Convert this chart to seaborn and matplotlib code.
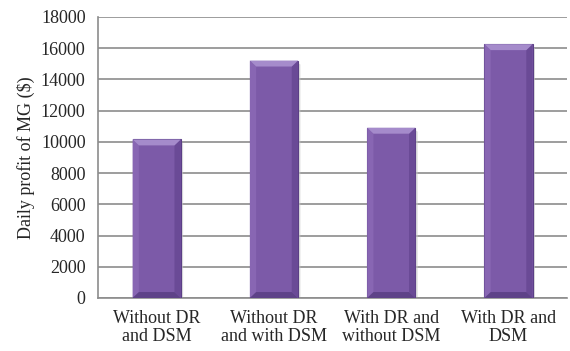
import matplotlib
matplotlib.use("Agg")
import matplotlib.pyplot as plt
from matplotlib.patches import Polygon
import seaborn as sns
import pandas as pd

categories = ["Without DR\nand DSM", "Without DR\nand with DSM",
              "With DR and\nwithout DSM", "With DR and\nDSM"]
profit = [10150, 15200, 10900, 16250]
yticks = [0, 2000, 4000, 6000, 8000, 10000, 12000, 14000, 16000, 18000]

df = pd.DataFrame({"scenario": categories, "profit": profit})

sns.set_style("white")
plt.rcParams["font.family"] = ["Liberation Serif", "DejaVu Serif"]

fig = plt.figure(figsize=(5.70, 3.51), dpi=100)
ax = fig.add_axes([0.172, 0.151, 0.823, 0.801])

base = "#7C5AA8"
sns.barplot(data=df, x="scenario", y="profit", color=base, saturation=1,
            width=0.41, edgecolor="#5B3F86", linewidth=0.8, ax=ax, zorder=3)

# bevelled look on each bar, built from the bar patches
for p in list(ax.patches):
    x0, y0 = p.get_x(), p.get_y()
    w, h = p.get_width(), p.get_height()
    x1, y1 = x0 + w, y0 + h
    dx = w * 0.13
    dy = 380
    top = Polygon([(x0, y1), (x1, y1), (x1 - dx, y1 - dy), (x0 + dx, y1 - dy)],
                  closed=True, facecolor="#A58BCB", edgecolor="none", zorder=4)
    left = Polygon([(x0, y1), (x0 + dx, y1 - dy), (x0 + dx, y0 + dy), (x0, y0)],
                   closed=True, facecolor="#8866B3", edgecolor="none", zorder=4)
    right = Polygon([(x1, y1), (x1 - dx, y1 - dy), (x1 - dx, y0 + dy), (x1, y0)],
                    closed=True, facecolor="#6A4A96", edgecolor="none", zorder=4)
    bottom = Polygon([(x0, y0), (x1, y0), (x1 - dx, y0 + dy), (x0 + dx, y0 + dy)],
                     closed=True, facecolor="#5E4288", edgecolor="none", zorder=4)
    for poly in (left, right, bottom, top):
        ax.add_patch(poly)
    # soft shadow to the right
    ax.add_patch(Polygon([(x1, y1 - 150), (x1 + w * 0.05, y1 - 250),
                          (x1 + w * 0.05, y0), (x1, y0)], closed=True,
                         facecolor="#c8c8c8", edgecolor="none", alpha=0.6, zorder=2))

ax.set_ylim(0, 18000)
ax.set_xlim(-0.5, 3.5)
ax.set_yticks(yticks)
ax.set_yticklabels([str(v) for v in yticks], fontsize=13)
ax.yaxis.grid(True, color="#8c8c8c", linewidth=1.2, zorder=0)
ax.set_axisbelow(True)

ax.set_xlabel("")
ax.set_ylabel("Daily profit of MG ($)", fontsize=13, labelpad=4)

ax.set_xticks(range(len(categories)))
ax.set_xticklabels(categories, fontsize=13, linespacing=1.05)
ax.set_xticks([-0.5, 0.5, 1.5, 2.5, 3.5], minor=True)
ax.tick_params(axis="x", which="major", length=0, pad=9)
ax.tick_params(axis="x", which="minor", length=5, width=1.0, color="#8c8c8c", direction="out")
ax.tick_params(axis="y", length=5, width=1.0, color="#8c8c8c", direction="out", pad=4)

for s in ("top", "right"):
    ax.spines[s].set_visible(False)
for s in ("left", "bottom"):
    ax.spines[s].set_color("#8c8c8c")
    ax.spines[s].set_linewidth(1.2)

fig.savefig("out.png", dpi=100)
